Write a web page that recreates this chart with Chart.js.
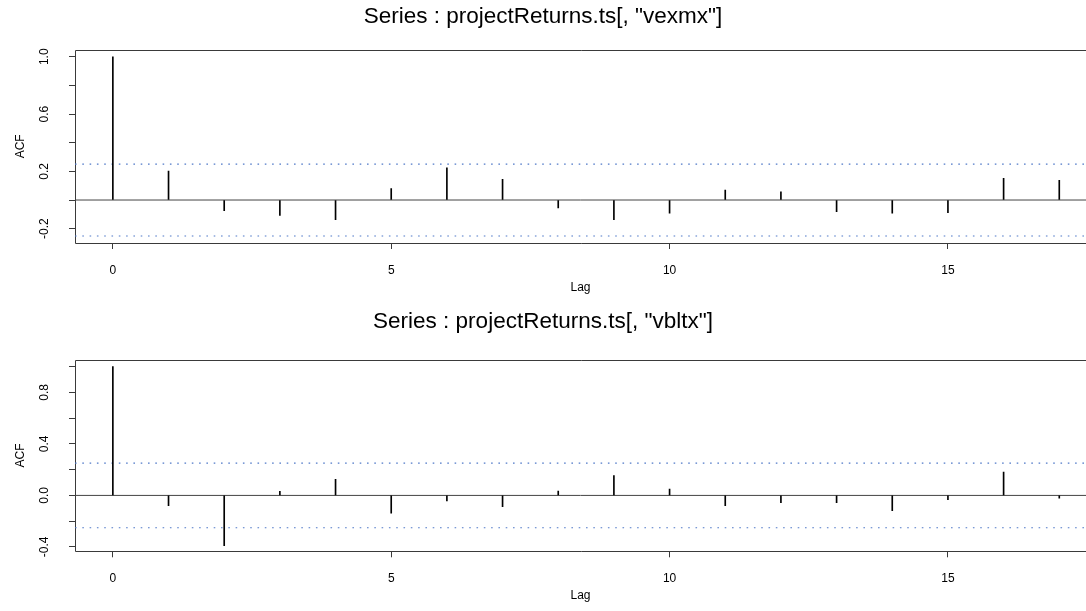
<!DOCTYPE html>
<html>
<head>
<meta charset="utf-8">
<script src="https://cdn.jsdelivr.net/npm/chart.js@4/dist/chart.umd.min.js"></script>
<style>
  html, body { margin: 0; padding: 0; background: #fff; overflow: hidden; }
  canvas { position: absolute; left: 0; }
</style>
</head>
<body>
<canvas id="acfVexmx" width="1086" height="305" style="top:0px"></canvas>
<canvas id="acfVbltx" width="1086" height="306" style="top:305px"></canvas>
<script>
// Autocorrelation estimates by lag for the two return series
const lags = [0, 1, 2, 3, 4, 5, 6, 7, 8, 9, 10, 11, 12, 13, 14, 15, 16, 17];
const vexmxAcf = [1.000, 0.202, -0.074, -0.107, -0.137, 0.079, 0.225, 0.144, -0.056,
                  -0.137, -0.091, 0.070, 0.058, -0.081, -0.091, -0.088, 0.151, 0.137];
const vbltxAcf = [1.000, -0.080, -0.390, 0.031, 0.124, -0.137, -0.042, -0.088, 0.033,
                  0.155, 0.049, -0.080, -0.057, -0.057, -0.119, -0.034, 0.181, -0.021];

// Approximate 95% bounds for white noise
const confLimit = 0.251;

// Axis text
const panelTitles = ['Series : projectReturns.ts[, "vexmx"]', 'Series : projectReturns.ts[, "vbltx"]'];
const vexmxYTickLabels = ['1.0', '0.6', '0.2', '-0.2'];
const vbltxYTickLabels = ['0.8', '0.4', '0.0', '-0.4'];
const lagTickLabels = ['0', '5', '10', '15'];

// Axis limits
const LAG_MIN = -0.68, LAG_MAX = 17.48;
const vexmxRange = [-0.30, 1.05];
const vbltxRange = [-0.434, 1.054];

const FONT = "'Liberation Sans', Arial, Helvetica, sans-serif";
const INK = '#000';
const FRAME = '#3a3a3a';
const BOUND = '#4f78c8';

// Frame around the plotting region (open on the right where it runs off the page)
const framePlugin = {
  id: 'frame',
  beforeDatasetsDraw(chart) {
    const { ctx, chartArea: a } = chart;
    const l = Math.round(a.left) + 0.5, t = Math.round(a.top) + 0.5, b = Math.round(a.bottom) + 0.5;
    ctx.save();
    ctx.strokeStyle = FRAME;
    ctx.lineWidth = 1;
    ctx.beginPath();
    ctx.moveTo(a.right + 2, t); ctx.lineTo(l, t); ctx.lineTo(l, b); ctx.lineTo(a.right + 2, b);
    ctx.stroke();
    ctx.restore();
  }
};

function fmt(v) {
  const r = Math.abs(v) < 1e-9 ? 0 : v;
  return r.toFixed(1);
}

function makePanel(id, title, acf, yRange, yLabels, lay) {
  const hLine = (y, color, dash, width) => ({
    type: 'line',
    data: [{ x: LAG_MIN, y: y }, { x: LAG_MAX, y: y }],
    borderColor: color,
    borderWidth: width,
    borderDash: dash,
    pointRadius: 0,
    fill: false,
    order: 2
  });
  return new Chart(document.getElementById(id), {
    type: 'bar',
    data: {
      datasets: [
        {
          type: 'bar',
          data: lags.map((lag, i) => ({ x: lag, y: acf[i] })),
          backgroundColor: INK,
          borderWidth: 0,
          barThickness: 1,
          order: 1
        },
        hLine(0, '#444', [], 1),
        hLine(confLimit, BOUND, [1.6, 5.7], 1.2),
        hLine(-confLimit, BOUND, [1.6, 5.7], 1.2)
      ]
    },
    options: {
      responsive: false,
      animation: false,
      layout: { padding: 0 },
      plugins: {
        legend: { display: false },
        tooltip: { enabled: false },
        title: {
          display: true,
          text: title,
          color: INK,
          font: { family: FONT, size: 22.5, weight: 'normal' },
          padding: { top: lay.titleTop, bottom: lay.titleBottom }
        }
      },
      scales: {
        x: {
          type: 'linear',
          min: LAG_MIN,
          max: LAG_MAX,
          offset: false,
          grid: { display: true, drawOnChartArea: false, drawTicks: true, tickLength: 6, tickColor: FRAME, offset: false },
          border: { display: false },
          ticks: {
            stepSize: 5,
            includeBounds: false,
            autoSkip: false,
            maxRotation: 0,
            padding: lay.xTickPad,
            color: INK,
            font: { family: FONT, size: 12 },
            callback: v => (lagTickLabels.includes(String(v)) ? String(v) : '')
          },
          title: {
            display: true,
            text: 'Lag',
            color: INK,
            font: { family: FONT, size: 12 },
            padding: { top: 0, bottom: lay.lagBottom }
          },
          afterFit: s => { s.height = lay.xHeight; }
        },
        y: {
          type: 'linear',
          min: yRange[0],
          max: yRange[1],
          grid: { display: true, drawOnChartArea: false, drawTicks: true, tickLength: 6, tickColor: FRAME },
          border: { display: false },
          ticks: {
            stepSize: 0.2,
            includeBounds: false,
            autoSkip: false,
            minRotation: 90,
            maxRotation: 90,
            crossAlign: 'center',
            padding: 14,
            color: INK,
            font: { family: FONT, size: 12 },
            callback: v => (yLabels.includes(fmt(v)) ? fmt(v) : '')
          },
          title: {
            display: true,
            text: 'ACF',
            color: INK,
            font: { family: FONT, size: 12 },
            padding: { top: 13, bottom: 0 }
          },
          afterFit: s => { s.width = 75; }
        }
      }
    },
    plugins: [framePlugin]
  });
}

makePanel('acfVexmx', panelTitles[0], vexmxAcf, vexmxRange, vexmxYTickLabels,
  { titleTop: 3.2, titleBottom: 19.4, xHeight: 62, xTickPad: 14, lagBottom: 9.8 });
makePanel('acfVbltx', panelTitles[1], vbltxAcf, vbltxRange, vbltxYTickLabels,
  { titleTop: 3.6, titleBottom: 24.1, xHeight: 59.7, xTickPad: 14, lagBottom: 8 });
</script>
</body>
</html>
